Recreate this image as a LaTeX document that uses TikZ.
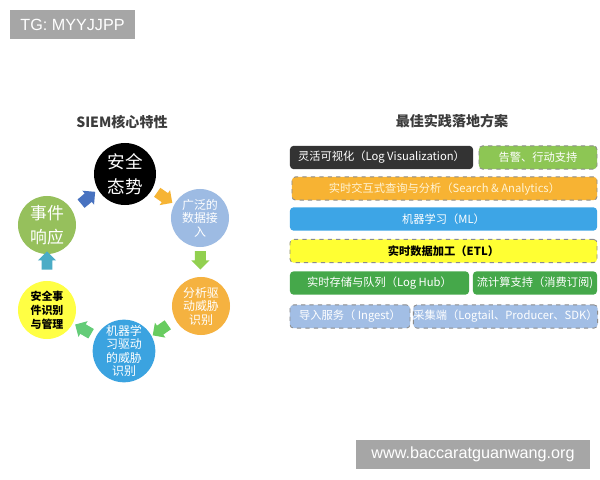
\documentclass[tikz,border=0pt]{standalone}
\usepackage{fontspec}
\setmainfont{Liberation Sans}
\newfontfamily\cjk{Noto Sans CJK SC}
\usetikzlibrary{calc,shapes.arrows}
\definecolor{TagGray}{RGB}{166,166,166}
\definecolor{DashGray}{RGB}{140,140,140}
\definecolor{TitleGray}{RGB}{60,60,60}
\definecolor{ColPost}{RGB}{0,0,0}
\definecolor{ColIngest}{RGB}{157,187,227}
\definecolor{ColAna}{RGB}{245,178,64}
\definecolor{ColML}{RGB}{59,163,224}
\definecolor{ColInc}{RGB}{255,255,68}
\definecolor{ColResp}{RGB}{150,192,92}
\definecolor{ArrBlue}{RGB}{72,114,192}
\definecolor{ArrOrange}{RGB}{246,180,52}
\definecolor{ArrLime}{RGB}{146,208,80}
\definecolor{ArrGreen}{RGB}{104,204,96}
\definecolor{ArrMint}{RGB}{100,204,120}
\definecolor{ArrTeal}{RGB}{75,172,198}
\definecolor{BoxDark}{RGB}{51,51,51}
\definecolor{BoxLime}{RGB}{141,198,84}
\definecolor{BoxOrange}{RGB}{247,179,51}
\definecolor{BoxBlue}{RGB}{61,165,230}
\definecolor{BoxYellow}{RGB}{255,255,51}
\definecolor{BoxGreen}{RGB}{69,168,74}
\definecolor{BoxPale}{RGB}{162,190,229}

\begin{document}
\begin{tikzpicture}[
  x=0.025cm, y=-0.025cm,
  every node/.style={font=\cjk},
  core/.style={circle, inner sep=0pt, minimum size=14.5mm, align=center, text=white,
    font=\cjk\fontsize{8.5}{9.6}\selectfont},
  flowarrow/.style={single arrow, draw=none, inner sep=1.3mm, minimum height=4.6mm,
    minimum width=4.4mm, single arrow head extend=0.9mm},
  layer/.style={rounded corners=2.5pt, inner sep=0pt, minimum height=5.8mm, text=white,
    font=\cjk\fontsize{8}{9}\selectfont},
  dashlayer/.style={layer, draw=DashGray, dashed, line width=0.6pt},
  tag/.style={fill=TagGray, text=white, inner sep=0pt, minimum height=7.3mm,
    font=\fontsize{11.5}{12}\selectfont}
]
  \useasboundingbox[fill=white] (0,0) rectangle (600,480);

  % Watermark tags
  \node[tag, minimum width=31.25mm] (tgtag) at (72.5,24.5) {TG: MYYJJPP};
  \node[tag, minimum width=58.5mm]  (urltag) at (473,454.5) {www.baccaratguanwang.org};

  % Titles
  \node[TitleGray, font=\cjk\bfseries\fontsize{10}{12}\selectfont] (siemtitle) at (122,122) {SIEM核心特性};
  \node[TitleGray, font=\cjk\bfseries\fontsize{10}{12}\selectfont] (besttitle) at (452,121) {最佳实践落地方案};

  % Core cycle
  \node[core, fill=ColPost, minimum size=15.5mm, font=\cjk\fontsize{12.5}{18}\selectfont] (posture) at (125,174) {安全\\态势};
  \node[core, fill=ColIngest] (ingest)   at (200,218) {广泛的\\数据接\\入};
  \node[core, fill=ColAna]    (analytic) at (201,306) {分析驱\\动威胁\\识别};
  \node[core, fill=ColML]     (mldet)    at (124,351) {机器学\\习驱动\\的威胁\\识别};
  \node[core, fill=ColInc, text=black, font=\cjk\bfseries\fontsize{7.8}{10}\selectfont] (incident) at (47,310) {安全事\\件识别\\与管理};
  \node[core, fill=ColResp, font=\cjk\fontsize{12}{17}\selectfont] (resp) at (47,225) {事件\\响应};

  % Block arrows between the circles
  \node[flowarrow, fill=ArrBlue,   rotate=40]  (a1) at ($(resp)!0.5!(posture)$) {};
  \node[flowarrow, fill=ArrOrange, rotate=-35] (a2) at ($(posture)!0.5!(ingest)$) {};
  \node[flowarrow, fill=ArrLime,   rotate=-90] (a3) at ($(ingest)!0.45!(analytic)$) {};
  \node[flowarrow, fill=ArrGreen,  rotate=215] (a4) at ($(analytic)!0.5!(mldet)$) {};
  \node[flowarrow, fill=ArrMint,   rotate=150] (a5) at ($(mldet)!0.5!(incident)$) {};
  \node[flowarrow, fill=ArrTeal,   rotate=90]  (a6) at ($(incident)!0.55!(resp)$) {};

  % Solution stack
  \node[layer, fill=BoxDark, minimum width=45.75mm] (viz) at (381.5,157.5) {灵活可视化（Log Visualization）};
  \node[dashlayer, fill=BoxLime, minimum width=29.5mm] (alert) at (538,157.5) {告警、行动支持};
  \node[dashlayer, fill=BoxOrange, text={rgb,255:red,255;green,244;blue,214}, minimum width=76.25mm] (search) at (444.5,188.5) {实时交互式查询与分析（Search \& Analytics）};
  \node[layer, fill=BoxBlue, minimum width=76.75mm] (ml) at (443.5,219) {机器学习（ML）};
  \node[dashlayer, fill=BoxYellow, text=black, font=\cjk\bfseries\fontsize{8}{9}\selectfont, minimum width=76.75mm] (etl) at (443.5,251) {实时数据加工（ETL）};
  \node[layer, fill=BoxGreen, minimum width=44.75mm] (loghub) at (379.5,283) {实时存储与队列（Log Hub）};
  \node[layer, fill=BoxGreen, minimum width=31mm] (stream) at (535,283) {流计算支持（消费订阅)};
  \node[dashlayer, fill=BoxPale, minimum width=30mm] (import) at (350,316.5) {导入服务（ Ingest）};
  \node[dashlayer, fill=BoxPale, minimum width=45.75mm] (collect) at (505.5,316.5) {采集端（Logtail、Producer、SDK）};
\end{tikzpicture}
\end{document}
